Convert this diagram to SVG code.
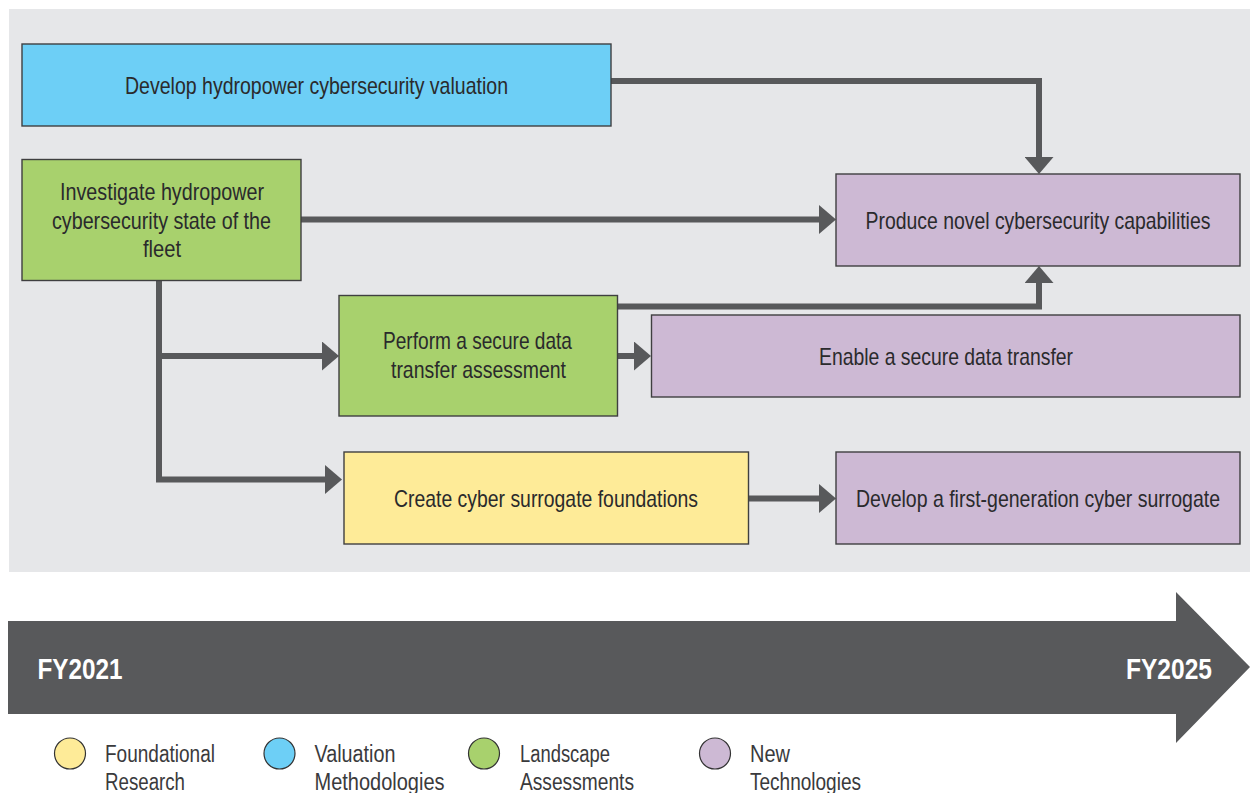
<svg xmlns="http://www.w3.org/2000/svg" width="1250" height="793" viewBox="0 0 1250 793">
<style>
.box{stroke:#3f3f40;stroke-width:1.4}
.t{font-family:"Liberation Sans",Arial,sans-serif;font-size:24px;fill:#2a2a2c;text-anchor:middle}
.lg{font-family:"Liberation Sans",Arial,sans-serif;font-size:23px;fill:#3a3a3c}
.fy{font-family:"Liberation Sans",Arial,sans-serif;font-size:30px;font-weight:bold;fill:#ffffff}
.c{fill:none;stroke:#58595b;stroke-width:6;stroke-linejoin:miter;marker-end:url(#ah)}
.dot{stroke:#333;stroke-width:1.2}
</style>
<defs>
<marker id="ah" markerUnits="userSpaceOnUse" viewBox="0 0 17 29" refX="0" refY="14.5" markerWidth="17" markerHeight="29" orient="auto">
<path d="M0,0 L17,14.5 L0,29 z" fill="#58595b"/>
</marker>
</defs>
<rect x="0" y="0" width="1250" height="793" fill="#ffffff"/>
<rect x="9" y="9" width="1241" height="563" fill="#e6e7e9"/>

<g id="connectors">
<path class="c" d="M611,81 H1039 V157"/>
<path class="c" d="M301,219.5 H819"/>
<path class="c" d="M617,306.5 H1039 V283"/>
<path class="c" d="M159,280 V479.5 H325"/>
<path class="c" d="M159,356 H322"/>
<path class="c" d="M617,356 H634"/>
<path class="c" d="M748,498.5 H819"/>
</g>

<g id="node-valuation">
<rect class="box" x="22" y="44" width="589" height="82" fill="#6dcff6"/>
<text class="t" x="316.5" y="94" textLength="383" lengthAdjust="spacingAndGlyphs">Develop hydropower cybersecurity valuation</text>
</g>
<g id="node-investigate">
<rect class="box" x="22" y="159.5" width="279" height="121" fill="#a8d16d"/>
<text class="t" x="162" y="200" textLength="204" lengthAdjust="spacingAndGlyphs">Investigate hydropower</text>
<text class="t" x="161.5" y="228.5" textLength="219" lengthAdjust="spacingAndGlyphs">cybersecurity state of the</text>
<text class="t" x="162" y="257" textLength="38" lengthAdjust="spacingAndGlyphs">fleet</text>
</g>
<g id="node-produce">
<rect class="box" x="836" y="174" width="404" height="92" fill="#cdb9d4"/>
<text class="t" transform="translate(1038,229) scale(0.8,1)" x="0" y="0" textLength="431" lengthAdjust="spacingAndGlyphs">Produce novel cybersecurity capabilities</text>
</g>
<g id="node-perform">
<rect class="box" x="339" y="295.5" width="278.5" height="120.5" fill="#a8d16d"/>
<text class="t" x="477.5" y="349" textLength="189" lengthAdjust="spacingAndGlyphs">Perform a secure data</text>
<text class="t" x="478.5" y="378" textLength="175" lengthAdjust="spacingAndGlyphs">transfer assessment</text>
</g>
<g id="node-enable">
<rect class="box" x="651.5" y="315" width="588.5" height="82" fill="#cdb9d4"/>
<text class="t" x="946" y="365" textLength="254" lengthAdjust="spacingAndGlyphs">Enable a secure data transfer</text>
</g>
<g id="node-create">
<rect class="box" x="344" y="452" width="404.5" height="92" fill="#feeb98"/>
<text class="t" x="546" y="506.5" textLength="304" lengthAdjust="spacingAndGlyphs">Create cyber surrogate foundations</text>
</g>
<g id="node-surrogate">
<rect class="box" x="836" y="452" width="404" height="92" fill="#cdb9d4"/>
<text class="t" transform="translate(1038,506.5) scale(0.8,1)" x="0" y="0" textLength="455" lengthAdjust="spacingAndGlyphs">Develop a first-generation cyber surrogate</text>
</g>

<g id="timeline">
<polygon points="8,621 1176,621 1176,592 1250,667 1176,743 1176,714 8,714" fill="#58595b"/>
<text class="fy" x="37.5" y="678.5" textLength="85" lengthAdjust="spacingAndGlyphs">FY2021</text>
<text class="fy" x="1126" y="678.5" textLength="86" lengthAdjust="spacingAndGlyphs">FY2025</text>
</g>

<g id="legend">
<circle class="dot" cx="70" cy="753.5" r="15.5" fill="#feeb98"/>
<text class="lg" x="105" y="762" textLength="110" lengthAdjust="spacingAndGlyphs">Foundational</text>
<text class="lg" x="105" y="790" textLength="80" lengthAdjust="spacingAndGlyphs">Research</text>
<circle class="dot" cx="279.5" cy="753.5" r="15.5" fill="#6dcff6"/>
<text class="lg" x="314.5" y="762" textLength="81" lengthAdjust="spacingAndGlyphs">Valuation</text>
<text class="lg" x="314.5" y="790" textLength="130" lengthAdjust="spacingAndGlyphs">Methodologies</text>
<circle class="dot" cx="484" cy="753.5" r="15.5" fill="#a8d16d"/>
<text class="lg" x="520" y="762" textLength="90" lengthAdjust="spacingAndGlyphs">Landscape</text>
<text class="lg" x="520" y="790" textLength="114" lengthAdjust="spacingAndGlyphs">Assessments</text>
<circle class="dot" cx="715" cy="753.5" r="15.5" fill="#cdb9d4"/>
<text class="lg" x="750" y="762" textLength="40" lengthAdjust="spacingAndGlyphs">New</text>
<text class="lg" x="750" y="790" textLength="111" lengthAdjust="spacingAndGlyphs">Technologies</text>
</g>
</svg>
